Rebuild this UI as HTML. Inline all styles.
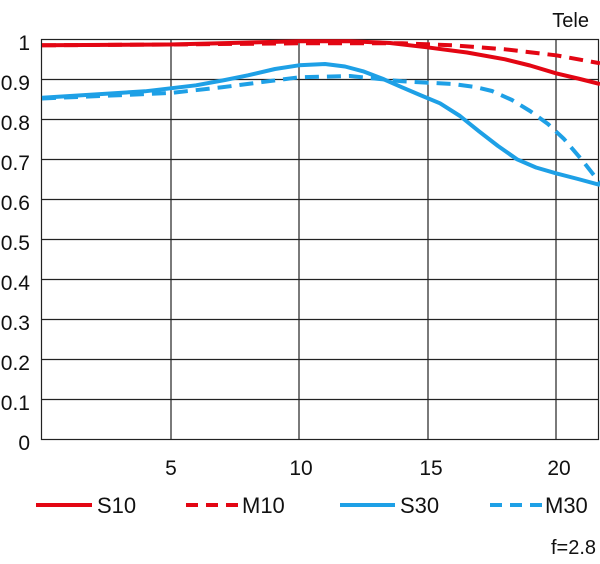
<!DOCTYPE html>
<html><head><style>
html,body{margin:0;padding:0;background:#fff;}
svg{display:block;font-family:"Liberation Sans",sans-serif;}
</style></head><body>
<svg width="600" height="564" viewBox="0 0 600 564">
<defs><clipPath id="c"><rect x="41" y="30" width="560" height="410"/></clipPath></defs>
<g stroke="#222" stroke-width="1.2" fill="none">
<rect x="41.5" y="39.5" width="557" height="400"/>
<line x1="41" y1="79.5" x2="598" y2="79.5"/><line x1="41" y1="119.5" x2="598" y2="119.5"/>
<line x1="41" y1="159.5" x2="598" y2="159.5"/><line x1="41" y1="199.5" x2="598" y2="199.5"/>
<line x1="41" y1="239.5" x2="598" y2="239.5"/><line x1="41" y1="279.5" x2="598" y2="279.5"/>
<line x1="41" y1="319.5" x2="598" y2="319.5"/><line x1="41" y1="359.5" x2="598" y2="359.5"/>
<line x1="41" y1="399.5" x2="598" y2="399.5"/>
<line x1="171" y1="39.5" x2="171" y2="439.5"/><line x1="299" y1="39.5" x2="299" y2="439.5"/>
<line x1="428" y1="39.5" x2="428" y2="439.5"/><line x1="556" y1="39.5" x2="556" y2="439.5"/>
</g>
<g font-size="21" fill="#111" text-anchor="end">
<text x="30" y="50">1</text><text x="30" y="90">0.9</text><text x="30" y="130">0.8</text>
<text x="30" y="170">0.7</text><text x="30" y="210">0.6</text><text x="30" y="250">0.5</text>
<text x="30" y="290">0.4</text><text x="30" y="330">0.3</text><text x="30" y="370">0.2</text>
<text x="30" y="410">0.1</text><text x="30" y="450">0</text>
</g>
<g font-size="21" fill="#111" text-anchor="middle">
<text x="171" y="475">5</text><text x="301" y="475">10</text><text x="431" y="475">15</text><text x="559" y="475">20</text>
</g>
<text x="589" y="27" font-size="20" text-anchor="end" fill="#111">Tele</text>
<text x="596" y="554" font-size="20" text-anchor="end" fill="#111">f=2.8</text>
<g clip-path="url(#c)" fill="none" stroke-width="4" stroke-linejoin="round" stroke-linecap="butt">
<polyline stroke="#e30613" stroke-dasharray="14,8" points="42,45.3 170,44.5 299,43.3 402,43.3 453,45.3 505,49.3 556,55.3 600,63.3"/>
<polyline stroke="#e30613" points="42,45.3 170,44.5 250,42.5 299,41.3 350,41.3 390,43 427,47.3 467,52.5 505,59.3 530,65.5 556,73.3 580,79 600,84"/>
<polyline stroke="#1ea0e6" stroke-dasharray="14,8" points="42,98.5 170,93 222,87.3 299,77.3 350,76 402,81.3 453,84 475,87 492,91 512,100 530,111 548,124 564,139 582,160 600,183"/>
<polyline stroke="#1ea0e6" points="42,97.7 145,91.3 196,85.3 225,80 248,75.3 275,69 299,65.3 325,64 345,66.5 363,71.3 382,78.5 402,87.3 420,95 440,103.3 460,116 479,131.3 498,146 517,159.3 536,167.5 556,173.3 578,179 600,185"/>
</g>
<g stroke-width="4">
<line x1="36" y1="505" x2="92" y2="505" stroke="#e30613"/>
<line x1="186" y1="505" x2="238" y2="505" stroke="#e30613" stroke-dasharray="12,8"/>
<line x1="340" y1="505" x2="395" y2="505" stroke="#1ea0e6"/>
<line x1="490" y1="505" x2="544" y2="505" stroke="#1ea0e6" stroke-dasharray="12,8"/>
</g>
<g font-size="22" fill="#111">
<text x="97" y="513">S10</text><text x="242" y="513">M10</text>
<text x="400" y="513">S30</text><text x="545" y="513">M30</text>
</g>
</svg>
</body></html>
